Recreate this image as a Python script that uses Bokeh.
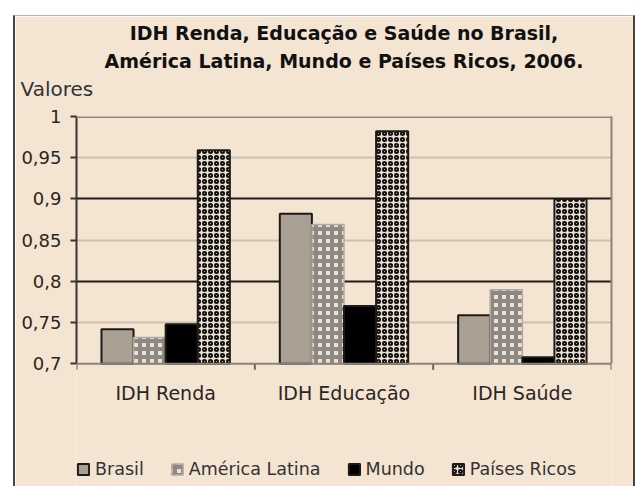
import numpy as np
from bokeh.plotting import figure
from bokeh.models import (ColumnDataSource, Range1d, FixedTicker, LinearAxis,
                          Grid, Legend, LegendItem, Title, CustomJSTickFormatter, Span)
from bokeh.core.properties import value
from bokeh.embed import file_html
from bokeh.resources import INLINE

# ---------------- data ----------------
categories = ["IDH Renda", "IDH Educação", "IDH Saúde"]
series_names = ["Brasil", "América Latina", "Mundo", "Países Ricos"]
brasil = [0.742, 0.882, 0.759]
america_latina = [0.732, 0.869, 0.790]
mundo = [0.748, 0.770, 0.708]
paises_ricos = [0.959, 0.982, 0.900]
y_ticks = [0.7, 0.75, 0.8, 0.85, 0.9, 0.95, 1.0]
title_line1 = "IDH Renda, Educação e Saúde no Brasil,"
title_line2 = "América Latina, Mundo e Países Ricos, 2006."
y_title = "Valores"

# ---------------- styles ----------------
BG = "#f4e4d2"
DARK = "#1e1a17"
GRAY = "#8c837a"
LIGHTGRID = "#cdbfb0"
FONT = "DejaVu Sans"

n_cat = len(categories)
centers = [i + 0.5 for i in range(n_cat)]
bounds_x = list(range(n_cat + 1))
bar_w = 0.18
offsets = [(i - 1.5) * bar_w for i in range(len(series_names))]
base = y_ticks[0]
top = y_ticks[-1]
frame_bottom = 0.55      # frame extends below the axis to hold labels and legend
tick_len = 0.0073        # ~6 px

data = dict(center=centers, brasil=brasil, al=america_latina, mundo=mundo, ricos=paises_ricos,
            cat=categories, base=[base] * n_cat)
for k, off in zip(["x0", "x1", "x2", "x3"], offsets):
    data[k] = [c + off for c in centers]
src = ColumnDataSource(data)

p = figure(x_range=Range1d(0, n_cat), y_range=Range1d(frame_bottom, top),
           width=622, height=471, output_backend="svg", toolbar_location=None,
           x_axis_location=None, y_axis_location=None,
           background_fill_color=BG, border_fill_color=BG,
           min_border_left=61, min_border_right=26, min_border_top=0, min_border_bottom=0)
p.center = [r for r in p.center if not isinstance(r, Grid)]
p.outline_line_color = None

# y axis (left)
yaxis = LinearAxis(ticker=FixedTicker(ticks=y_ticks, minor_ticks=[]), bounds=(base, top),
                   formatter=CustomJSTickFormatter(code="return String(Math.round(tick*100)/100).replace('.', ',');"))
yaxis.axis_line_color = "#3a3430"
yaxis.axis_line_width = 2
yaxis.major_tick_line_color = "#3a3430"
yaxis.major_tick_line_width = 2
yaxis.major_tick_out = 6
yaxis.major_tick_in = 0
yaxis.major_label_text_font = FONT
yaxis.major_label_text_font_size = "18px"
yaxis.major_label_text_color = "#2a2622"
yaxis.major_label_standoff = 9
p.add_layout(yaxis, "left")

# right edge line of the plot area
raxis = LinearAxis(ticker=FixedTicker(ticks=[], minor_ticks=[]), bounds=(base, top))
raxis.axis_line_color = GRAY
raxis.axis_line_width = 2
raxis.major_tick_line_color = None
raxis.minor_tick_line_color = None
raxis.major_label_text_font_size = "0px"
p.add_layout(raxis, "right")

# grids
p.add_layout(Grid(dimension=1, ticker=FixedTicker(ticks=[0.75, 0.85, 0.95]),
                  grid_line_color=LIGHTGRID, grid_line_width=2))
p.add_layout(Grid(dimension=1, ticker=FixedTicker(ticks=[0.8, 0.9]),
                  grid_line_color=DARK, grid_line_width=2))
p.add_layout(Span(location=top, dimension="width", line_color=GRAY, line_width=3))
p.add_layout(Span(location=base, dimension="width", line_color=GRAY, line_width=2))

# category boundary ticks and labels
p.segment(x0=bounds_x, y0=[base] * len(bounds_x), x1=bounds_x, y1=[base - tick_len] * len(bounds_x),
          line_color="#6a625b", line_width=2)
p.text(x="center", y="base", text="cat", source=src, y_offset=29,
       text_align="center", text_baseline="middle", text_font=value(FONT),
       text_font_size="19px", text_color="#2a2622")

# bars
r1 = p.vbar(x="x0", top="brasil", bottom=base, width=bar_w,
            source=src, fill_color="#aa9f93", line_color=DARK, line_width=2)
r2 = p.vbar(x="x1", top="al", bottom=base, width=bar_w,
            source=src, fill_color="#ebe1d6", line_color="#b3aaa1", line_width=1.5,
            hatch_pattern="+", hatch_color="#8e8882", hatch_scale=8, hatch_weight=4)
r3 = p.vbar(x="x2", top="mundo", bottom=base, width=bar_w,
            source=src, fill_color="#000000", line_color=DARK, line_width=2)
r4 = p.vbar(x="x3", top="ricos", bottom=base, width=bar_w,
            source=src, fill_color="#eadfd0", line_color=DARK, line_width=2,
            hatch_pattern="o", hatch_color="#111111", hatch_scale=6, hatch_weight=2)

legend = Legend(items=[LegendItem(label=n, renderers=[r]) for n, r in zip(series_names, [r1, r2, r3, r4])],
                orientation="horizontal", location=(0, 8),
                glyph_width=14, glyph_height=14, label_standoff=5, spacing=26,
                label_text_font=FONT, label_text_font_size="17.5px", label_text_color="#333",
                background_fill_alpha=0, border_line_alpha=0, padding=0, margin=0)
p.add_layout(legend, "center")

# titles (closest to the plot first)
p.add_layout(Title(text=" ", text_font_size="4px", standoff=6), "above")
p.add_layout(Title(text=y_title, align="left", offset=-56, text_font=FONT, text_font_size="20px",
                   text_font_style="normal", text_color="#333", standoff=5), "above")
p.add_layout(Title(text=title_line2, align="center", text_font=FONT, text_font_size="19px",
                   text_font_style="bold", text_color="#111", standoff=1), "above")
p.add_layout(Title(text=title_line1, align="center", text_font=FONT, text_font_size="19px",
                   text_font_style="bold", text_color="#111", standoff=7), "above")

p.margin = (15, 0, 0, 13)
p.styles = {"border-left": "2px solid #4a443e", "border-right": "2px solid #4a443e",
            "border-top": "1px solid #bcb0a3"}

open("out.html", "w").write(file_html(p, INLINE))
